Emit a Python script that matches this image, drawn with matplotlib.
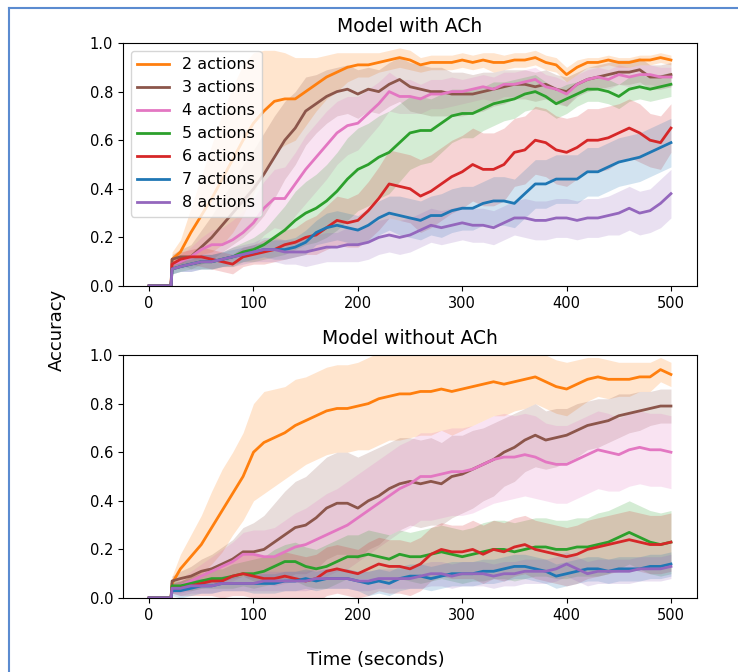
import matplotlib.pyplot as plt
from matplotlib.lines import Line2D

# time axis (seconds): flat zero until t=21, then jump
t = [0, 21, 22] + list(range(30, 501, 10))

labels = ["2 actions", "3 actions", "4 actions", "5 actions",
          "6 actions", "7 actions", "8 actions"]
colors = ["tab:orange", "tab:brown", "tab:pink", "tab:green",
          "tab:red", "tab:blue", "tab:purple"]

# ---- Model with ACh (values from t=22, 30, 40, ..., 500) ----
ach_2 = [0.11, 0.14, 0.22, 0.29, 0.36, 0.44, 0.52, 0.60, 0.67, 0.72, 0.76, 0.77, 0.77, 0.80, 0.83, 0.86, 0.88,
         0.90, 0.91, 0.91, 0.92, 0.93, 0.94, 0.93, 0.91, 0.92, 0.92, 0.92, 0.93, 0.92, 0.93, 0.92, 0.92, 0.93,
         0.93, 0.94, 0.92, 0.91, 0.87, 0.90, 0.92, 0.92, 0.93, 0.92, 0.92, 0.93, 0.93, 0.94, 0.93]
ach_3 = [0.11, 0.12, 0.12, 0.16, 0.20, 0.25, 0.30, 0.35, 0.40, 0.46, 0.53, 0.60, 0.65, 0.72, 0.75, 0.78, 0.80,
         0.81, 0.79, 0.81, 0.80, 0.83, 0.85, 0.82, 0.81, 0.80, 0.80, 0.79, 0.79, 0.79, 0.80, 0.81, 0.82, 0.83,
         0.83, 0.82, 0.83, 0.81, 0.80, 0.83, 0.85, 0.86, 0.87, 0.88, 0.88, 0.89, 0.86, 0.86, 0.87]
ach_4 = [0.09, 0.10, 0.12, 0.15, 0.17, 0.17, 0.19, 0.22, 0.26, 0.32, 0.36, 0.36, 0.42, 0.48, 0.53, 0.58, 0.63,
         0.66, 0.67, 0.71, 0.75, 0.80, 0.78, 0.78, 0.77, 0.79, 0.79, 0.80, 0.80, 0.81, 0.82, 0.81, 0.83, 0.83,
         0.84, 0.85, 0.82, 0.81, 0.79, 0.83, 0.85, 0.86, 0.85, 0.87, 0.86, 0.87, 0.87, 0.86, 0.86]
ach_5 = [0.07, 0.08, 0.09, 0.10, 0.10, 0.11, 0.12, 0.14, 0.15, 0.17, 0.20, 0.23, 0.27, 0.30, 0.32, 0.35, 0.39,
         0.44, 0.48, 0.50, 0.53, 0.55, 0.59, 0.63, 0.64, 0.64, 0.67, 0.70, 0.71, 0.71, 0.73, 0.75, 0.76, 0.77,
         0.79, 0.80, 0.78, 0.75, 0.77, 0.79, 0.81, 0.81, 0.80, 0.78, 0.81, 0.82, 0.81, 0.82, 0.83]
ach_6 = [0.09, 0.11, 0.12, 0.12, 0.11, 0.10, 0.09, 0.12, 0.13, 0.14, 0.15, 0.17, 0.18, 0.20, 0.21, 0.24, 0.27,
         0.26, 0.27, 0.31, 0.36, 0.42, 0.41, 0.40, 0.37, 0.39, 0.42, 0.45, 0.47, 0.50, 0.48, 0.48, 0.50, 0.55,
         0.56, 0.60, 0.59, 0.56, 0.55, 0.57, 0.60, 0.60, 0.61, 0.63, 0.65, 0.63, 0.60, 0.59, 0.65]
ach_7 = [0.07, 0.08, 0.09, 0.10, 0.10, 0.11, 0.12, 0.13, 0.14, 0.15, 0.15, 0.15, 0.16, 0.18, 0.22, 0.24, 0.25,
         0.24, 0.23, 0.25, 0.28, 0.30, 0.29, 0.28, 0.27, 0.29, 0.29, 0.31, 0.32, 0.32, 0.34, 0.35, 0.35, 0.34,
         0.38, 0.42, 0.42, 0.44, 0.44, 0.44, 0.47, 0.47, 0.49, 0.51, 0.52, 0.53, 0.55, 0.57, 0.59]
ach_8 = [0.07, 0.08, 0.09, 0.10, 0.10, 0.11, 0.12, 0.13, 0.14, 0.15, 0.15, 0.14, 0.14, 0.14, 0.15, 0.16, 0.16,
         0.17, 0.17, 0.18, 0.20, 0.21, 0.20, 0.21, 0.23, 0.25, 0.24, 0.25, 0.26, 0.25, 0.25, 0.24, 0.26, 0.28,
         0.28, 0.27, 0.27, 0.28, 0.28, 0.27, 0.28, 0.28, 0.29, 0.30, 0.32, 0.30, 0.31, 0.34, 0.38]

# spread (half width of shaded band)
ach_2_sd = [0.03, 0.05, 0.10, 0.16, 0.22, 0.27, 0.30, 0.31, 0.29, 0.25, 0.21, 0.19, 0.17, 0.14, 0.11, 0.09, 0.08,
            0.06, 0.05, 0.05, 0.04, 0.04, 0.04, 0.04, 0.03, 0.03, 0.03, 0.03, 0.03, 0.03, 0.03, 0.04, 0.03, 0.03,
            0.03, 0.03, 0.03, 0.03, 0.03, 0.03, 0.02, 0.02, 0.02, 0.02, 0.02, 0.02, 0.02, 0.02, 0.02]
ach_3_sd = [0.02, 0.03, 0.05, 0.07, 0.09, 0.11, 0.13, 0.15, 0.16, 0.17, 0.17, 0.16, 0.15, 0.14, 0.12, 0.11, 0.10,
            0.10, 0.10, 0.09, 0.09, 0.09, 0.09, 0.10, 0.10, 0.10, 0.10, 0.09, 0.09, 0.08, 0.08, 0.07, 0.07, 0.06,
            0.06, 0.06, 0.06, 0.06, 0.06, 0.05, 0.05, 0.05, 0.05, 0.05, 0.05, 0.05, 0.05, 0.05, 0.05]
ach_4_sd = [0.02, 0.03, 0.04, 0.05, 0.06, 0.07, 0.08, 0.09, 0.10, 0.11, 0.12, 0.13, 0.13, 0.14, 0.14, 0.14, 0.13,
            0.12, 0.11, 0.10, 0.09, 0.08, 0.07, 0.07, 0.06, 0.06, 0.06, 0.06, 0.05, 0.05, 0.05, 0.05, 0.05, 0.05,
            0.05, 0.05, 0.05, 0.05, 0.05, 0.04, 0.04, 0.04, 0.04, 0.04, 0.04, 0.04, 0.04, 0.04, 0.04]
ach_5_sd = [0.02, 0.02, 0.02, 0.03, 0.03, 0.03, 0.04, 0.04, 0.05, 0.06, 0.08, 0.10, 0.12, 0.13, 0.14, 0.15, 0.16,
            0.17, 0.17, 0.17, 0.17, 0.17, 0.16, 0.15, 0.14, 0.13, 0.12, 0.11, 0.10, 0.10, 0.09, 0.09, 0.08, 0.08,
            0.07, 0.07, 0.06, 0.06, 0.06, 0.05, 0.05, 0.05, 0.05, 0.05, 0.05, 0.05, 0.05, 0.05, 0.05]
ach_6_sd = [0.02, 0.03, 0.03, 0.04, 0.04, 0.04, 0.04, 0.04, 0.04, 0.05, 0.05, 0.06, 0.06, 0.07, 0.08, 0.09, 0.10,
            0.10, 0.11, 0.12, 0.13, 0.14, 0.14, 0.14, 0.15, 0.15, 0.15, 0.15, 0.15, 0.15, 0.15, 0.15, 0.15, 0.14,
            0.14, 0.14, 0.14, 0.14, 0.14, 0.13, 0.13, 0.13, 0.13, 0.12, 0.12, 0.12, 0.11, 0.11, 0.10]
ach_7_sd = [0.02, 0.02, 0.03, 0.03, 0.03, 0.03, 0.03, 0.03, 0.03, 0.03, 0.04, 0.04, 0.04, 0.05, 0.05, 0.06, 0.06,
            0.06, 0.06, 0.07, 0.07, 0.07, 0.08, 0.08, 0.08, 0.08, 0.09, 0.09, 0.09, 0.09, 0.09, 0.10, 0.10, 0.10,
            0.10, 0.10, 0.10, 0.10, 0.10, 0.10, 0.10, 0.10, 0.10, 0.10, 0.10, 0.10, 0.10, 0.10, 0.10]
ach_8_sd = [0.02, 0.02, 0.03, 0.03, 0.03, 0.03, 0.04, 0.04, 0.04, 0.05, 0.05, 0.05, 0.05, 0.06, 0.06, 0.06, 0.06,
            0.07, 0.07, 0.07, 0.07, 0.07, 0.07, 0.07, 0.07, 0.07, 0.07, 0.07, 0.07, 0.07, 0.07, 0.07, 0.07, 0.07,
            0.08, 0.08, 0.08, 0.08, 0.08, 0.08, 0.08, 0.08, 0.08, 0.09, 0.09, 0.09, 0.09, 0.10, 0.10]

# ---- Model without ACh ----
noach_2 = [0.06, 0.12, 0.17, 0.22, 0.29, 0.36, 0.43, 0.50, 0.60, 0.64, 0.66, 0.68, 0.71, 0.73, 0.75, 0.77, 0.78,
           0.78, 0.79, 0.80, 0.82, 0.83, 0.84, 0.84, 0.85, 0.85, 0.86, 0.85, 0.86, 0.87, 0.88, 0.89, 0.88, 0.89,
           0.90, 0.91, 0.89, 0.87, 0.86, 0.88, 0.90, 0.91, 0.90, 0.90, 0.90, 0.91, 0.91, 0.94, 0.92]
noach_3 = [0.07, 0.08, 0.09, 0.11, 0.12, 0.14, 0.16, 0.19, 0.19, 0.20, 0.23, 0.26, 0.29, 0.30, 0.33, 0.37, 0.39,
           0.39, 0.37, 0.40, 0.42, 0.45, 0.47, 0.48, 0.47, 0.48, 0.47, 0.50, 0.51, 0.53, 0.55, 0.57, 0.60, 0.62,
           0.65, 0.67, 0.65, 0.66, 0.67, 0.69, 0.71, 0.72, 0.73, 0.75, 0.76, 0.77, 0.78, 0.79, 0.79]
noach_4 = [0.04, 0.05, 0.07, 0.09, 0.11, 0.13, 0.15, 0.18, 0.18, 0.17, 0.17, 0.19, 0.21, 0.22, 0.24, 0.26, 0.28,
           0.30, 0.33, 0.36, 0.39, 0.42, 0.45, 0.47, 0.50, 0.50, 0.51, 0.52, 0.52, 0.53, 0.55, 0.57, 0.58, 0.58,
           0.59, 0.58, 0.56, 0.55, 0.55, 0.57, 0.59, 0.61, 0.60, 0.59, 0.61, 0.62, 0.61, 0.61, 0.60]
noach_5 = [0.05, 0.05, 0.06, 0.07, 0.08, 0.08, 0.09, 0.10, 0.10, 0.11, 0.13, 0.15, 0.15, 0.13, 0.12, 0.13, 0.15,
           0.17, 0.17, 0.18, 0.17, 0.16, 0.18, 0.17, 0.17, 0.18, 0.19, 0.18, 0.17, 0.18, 0.19, 0.20, 0.20, 0.19,
           0.20, 0.21, 0.21, 0.20, 0.20, 0.21, 0.21, 0.22, 0.23, 0.25, 0.27, 0.25, 0.23, 0.22, 0.23]
noach_6 = [0.04, 0.04, 0.05, 0.06, 0.07, 0.07, 0.09, 0.10, 0.09, 0.08, 0.08, 0.09, 0.08, 0.07, 0.08, 0.11, 0.12,
           0.11, 0.10, 0.12, 0.14, 0.13, 0.13, 0.12, 0.14, 0.18, 0.20, 0.19, 0.19, 0.20, 0.18, 0.20, 0.19, 0.21,
           0.22, 0.20, 0.19, 0.18, 0.17, 0.18, 0.20, 0.21, 0.22, 0.23, 0.24, 0.23, 0.22, 0.22, 0.23]
noach_7 = [0.03, 0.03, 0.04, 0.05, 0.05, 0.06, 0.06, 0.06, 0.06, 0.06, 0.06, 0.07, 0.07, 0.08, 0.07, 0.08, 0.08,
           0.08, 0.07, 0.06, 0.07, 0.06, 0.08, 0.09, 0.09, 0.08, 0.09, 0.10, 0.10, 0.10, 0.11, 0.11, 0.12, 0.13,
           0.13, 0.12, 0.11, 0.09, 0.10, 0.11, 0.12, 0.12, 0.11, 0.12, 0.12, 0.12, 0.13, 0.13, 0.14]
noach_8 = [0.04, 0.04, 0.05, 0.05, 0.05, 0.06, 0.06, 0.06, 0.06, 0.07, 0.07, 0.07, 0.07, 0.07, 0.08, 0.08, 0.08,
           0.08, 0.07, 0.07, 0.08, 0.08, 0.08, 0.08, 0.09, 0.10, 0.10, 0.09, 0.10, 0.10, 0.10, 0.09, 0.10, 0.10,
           0.11, 0.11, 0.11, 0.12, 0.14, 0.12, 0.10, 0.11, 0.11, 0.11, 0.11, 0.12, 0.12, 0.12, 0.13]

noach_2_sd = [0.03, 0.06, 0.09, 0.12, 0.15, 0.17, 0.17, 0.18, 0.20, 0.21, 0.20, 0.19, 0.19, 0.18, 0.18, 0.18, 0.18,
              0.18, 0.18, 0.19, 0.19, 0.18, 0.19, 0.18, 0.18, 0.18, 0.17, 0.18, 0.17, 0.16, 0.15, 0.14, 0.13, 0.12,
              0.12, 0.11, 0.11, 0.11, 0.11, 0.10, 0.09, 0.08, 0.08, 0.07, 0.07, 0.06, 0.06, 0.05, 0.05]
noach_3_sd = [0.02, 0.03, 0.04, 0.05, 0.06, 0.07, 0.08, 0.10, 0.12, 0.14, 0.16, 0.18, 0.19, 0.20, 0.21, 0.21, 0.21,
              0.21, 0.21, 0.20, 0.20, 0.19, 0.19, 0.18, 0.18, 0.18, 0.17, 0.17, 0.16, 0.16, 0.15, 0.15, 0.14, 0.14,
              0.13, 0.13, 0.12, 0.12, 0.11, 0.11, 0.10, 0.10, 0.09, 0.09, 0.08, 0.08, 0.07, 0.07, 0.07]
noach_4_sd = [0.02, 0.03, 0.04, 0.05, 0.06, 0.07, 0.08, 0.09, 0.10, 0.11, 0.12, 0.13, 0.14, 0.15, 0.16, 0.17, 0.17,
              0.18, 0.18, 0.18, 0.18, 0.18, 0.18, 0.18, 0.18, 0.18, 0.18, 0.18, 0.18, 0.18, 0.18, 0.18, 0.18, 0.17,
              0.17, 0.17, 0.16, 0.16, 0.16, 0.16, 0.16, 0.16, 0.16, 0.15, 0.15, 0.15, 0.15, 0.15, 0.15]
noach_5_sd = [0.02, 0.02, 0.03, 0.03, 0.04, 0.04, 0.05, 0.05, 0.06, 0.06, 0.07, 0.07, 0.08, 0.08, 0.08, 0.09, 0.09,
              0.09, 0.09, 0.10, 0.10, 0.10, 0.10, 0.10, 0.11, 0.11, 0.11, 0.11, 0.11, 0.11, 0.12, 0.12, 0.12, 0.12,
              0.12, 0.12, 0.12, 0.12, 0.12, 0.12, 0.12, 0.13, 0.13, 0.13, 0.13, 0.13, 0.13, 0.13, 0.13]
noach_6_sd = [0.02, 0.03, 0.04, 0.05, 0.06, 0.07, 0.08, 0.09, 0.09, 0.09, 0.09, 0.10, 0.10, 0.10, 0.10, 0.10, 0.10,
              0.10, 0.10, 0.11, 0.11, 0.11, 0.11, 0.11, 0.11, 0.11, 0.11, 0.11, 0.11, 0.12, 0.12, 0.12, 0.12, 0.12,
              0.12, 0.12, 0.12, 0.12, 0.12, 0.12, 0.12, 0.12, 0.12, 0.12, 0.12, 0.12, 0.12, 0.12, 0.12]
noach_7_sd = [0.02, 0.03, 0.03, 0.03, 0.03, 0.03, 0.03, 0.03, 0.04, 0.04, 0.04, 0.04, 0.04, 0.04, 0.04, 0.04, 0.04,
              0.04, 0.04, 0.05, 0.05, 0.05, 0.05, 0.05, 0.05, 0.05, 0.05, 0.05, 0.05, 0.05, 0.05, 0.05, 0.05, 0.05,
              0.05, 0.05, 0.05, 0.05, 0.05, 0.05, 0.05, 0.05, 0.05, 0.05, 0.05, 0.05, 0.05, 0.05, 0.05]
noach_8_sd = [0.02, 0.03, 0.03, 0.03, 0.03, 0.03, 0.03, 0.03, 0.03, 0.04, 0.04, 0.04, 0.04, 0.04, 0.04, 0.04, 0.04,
              0.04, 0.04, 0.04, 0.04, 0.04, 0.04, 0.04, 0.05, 0.05, 0.05, 0.05, 0.05, 0.05, 0.05, 0.05, 0.05, 0.05,
              0.05, 0.05, 0.05, 0.05, 0.05, 0.05, 0.05, 0.05, 0.05, 0.05, 0.05, 0.05, 0.05, 0.05, 0.05]

ach_means = [ach_2, ach_3, ach_4, ach_5, ach_6, ach_7, ach_8]
ach_sds = [ach_2_sd, ach_3_sd, ach_4_sd, ach_5_sd, ach_6_sd, ach_7_sd, ach_8_sd]
noach_means = [noach_2, noach_3, noach_4, noach_5, noach_6, noach_7, noach_8]
noach_sds = [noach_2_sd, noach_3_sd, noach_4_sd, noach_5_sd, noach_6_sd, noach_7_sd, noach_8_sd]

fig = plt.figure(figsize=(7.38, 6.72), dpi=100)
ax1 = fig.add_axes([0.1667, 0.5744, 0.7778, 0.3616])
ax2 = fig.add_axes([0.1667, 0.1101, 0.7778, 0.3616])


def draw(ax, means, sds, title):
    for m, s, c, lab in zip(means, sds, colors, labels):
        y = [0.0, 0.0] + m
        sd = [0.0, 0.0] + s
        lo = [a - b for a, b in zip(y, sd)]
        hi = [a + b for a, b in zip(y, sd)]
        ax.fill_between(t, lo, hi, color=c, alpha=0.2, linewidth=0)
        ax.plot(t, y, color=c, linewidth=2, label=lab)
    ax.set_title(title, fontsize=13.5, pad=8)
    ax.set_xlim(-25, 525)
    ax.set_ylim(0, 1.0)
    ax.set_xticks([0, 100, 200, 300, 400, 500])
    ax.set_yticks([0.0, 0.2, 0.4, 0.6, 0.8, 1.0])
    ax.tick_params(labelsize=10.5)


draw(ax1, ach_means, ach_sds, "Model with ACh")
draw(ax2, noach_means, noach_sds, "Model without ACh")
ax1.legend(loc="upper left", fontsize=11.5)

fig.text(57 / 738, 1 - 330 / 672, "Accuracy", rotation=90, ha="center", va="center", fontsize=13)
fig.text(376 / 738, 1 - 660 / 672, "Time (seconds)", ha="center", va="center", fontsize=13)

# blue frame from the screenshot (left and top edges)
fig.add_artist(Line2D([9 / 738, 9 / 738], [0, 1 - 8 / 672], color="#5b8bd0", linewidth=1.5))
fig.add_artist(Line2D([9 / 738, 1], [1 - 8 / 672, 1 - 8 / 672], color="#5b8bd0", linewidth=1.5))

fig.savefig("out.png", dpi=100)
